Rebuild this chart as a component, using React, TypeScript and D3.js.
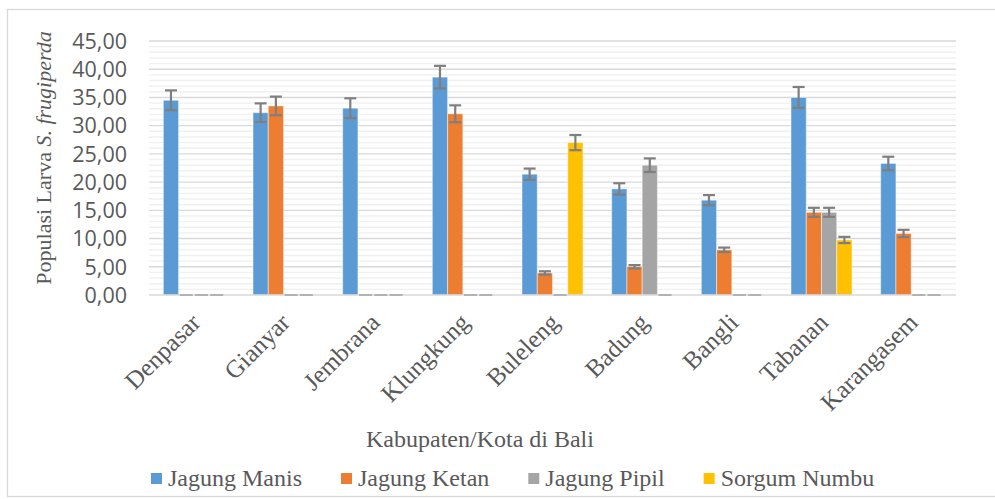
import React, { useEffect, useRef } from 'react';
import * as d3 from 'd3';

const categories = ['Denpasar', 'Gianyar', 'Jembrana', 'Klungkung', 'Buleleng', 'Badung', 'Bangli', 'Tabanan', 'Karangasem'];
const seriesNames = ['Jagung Manis', 'Jagung Ketan', 'Jagung Pipil', 'Sorgum Numbu'];
const seriesColors = ['#5B9BD5', '#ED7D31', '#A5A5A5', '#FFC000'];

const jagungManis = [34.5, 32.3, 33.1, 38.6, 21.4, 18.8, 16.8, 35.0, 23.3];
const jagungKetan = [0, 33.5, 0, 32.1, 3.9, 5.0, 8.0, 14.65, 10.9];
const jagungPipil = [0, 0, 0, 0, 0, 23.0, 0, 14.65, 0];
const sorgumNumbu = [0, 0, 0, 0, 27.0, 0, 0, 9.75, 0];

const errManis = [1.75, 1.65, 1.75, 2.0, 1.0, 1.0, 0.9, 1.85, 1.2];
const errKetan = [0, 1.65, 0, 1.5, 0.3, 0.3, 0.4, 0.8, 0.65];
const errPipil = [0, 0, 0, 0, 0, 1.2, 0, 0.8, 0];
const errSorgum = [0, 0, 0, 0, 1.35, 0, 0, 0.55, 0];

const yTicks = [0, 5, 10, 15, 20, 25, 30, 35, 40, 45];

const values = [jagungManis, jagungKetan, jagungPipil, sorgumNumbu];
const errors = [errManis, errKetan, errPipil, errSorgum];

const W = 995;
const H = 499;
const plot = { left: 149, right: 956, top: 41, bottom: 295 };
const serif = '"Liberation Serif", "Times New Roman", serif';
const sans = '"Open Sans", sans-serif';
const textColor = '#595959';

const App: React.FC = () => {
  const svgRef = useRef<SVGSVGElement>(null);

  useEffect(() => {
    if (!svgRef.current) return;
    const svg = d3.select(svgRef.current);
    svg.selectAll('*').remove();

    // outer chart border
    svg.append('rect')
      .attr('x', 7.5).attr('y', 9.5)
      .attr('width', 1000).attr('height', 487)
      .attr('fill', 'white')
      .attr('stroke', '#D9D9D9')
      .attr('stroke-width', 1.3);

    const y = d3.scaleLinear().domain([0, 45]).range([plot.bottom, plot.top]);
    const x0 = d3.scaleBand<string>()
      .domain(categories)
      .range([plot.left, plot.right])
      .paddingInner(0.32)
      .paddingOuter(0.16);
    const x1 = d3.scaleBand<string>()
      .domain(seriesNames)
      .range([0, x0.bandwidth()]);

    // minor gridlines every 1 unit
    const minor = d3.range(1, 45).filter(v => v % 5 !== 0);
    svg.append('g').selectAll('line')
      .data(minor).enter().append('line')
      .attr('x1', plot.left).attr('x2', plot.right)
      .attr('y1', d => y(d)).attr('y2', d => y(d))
      .attr('stroke', '#F0F0F0').attr('stroke-width', 1.4);

    // major gridlines
    svg.append('g').selectAll('line')
      .data(yTicks.filter(v => v > 0)).enter().append('line')
      .attr('x1', plot.left).attr('x2', plot.right)
      .attr('y1', d => y(d)).attr('y2', d => y(d))
      .attr('stroke', '#D9D9D9').attr('stroke-width', 1.4);

    // y tick labels
    svg.append('g').selectAll('text')
      .data(yTicks).enter().append('text')
      .attr('x', 127)
      .attr('y', d => y(d))
      .attr('dy', '0.36em')
      .attr('text-anchor', 'end')
      .style('font-family', sans)
      .style('font-size', '21.5px')
      .style('fill', textColor)
      .text(d => d.toFixed(2).replace('.', ','));

    // bars
    seriesNames.forEach((name, si) => {
      const g = svg.append('g');
      g.selectAll('rect')
        .data(values[si].map((v, i) => ({ v, c: categories[i] })))
        .enter().append('rect')
        .filter(d => d.v > 0)
        .attr('x', d => (x0(d.c) as number) + (x1(name) as number))
        .attr('y', d => y(d.v))
        .attr('width', x1.bandwidth())
        .attr('height', d => y(0) - y(d.v))
        .attr('fill', seriesColors[si])
        .attr('stroke', 'white')
        .attr('stroke-opacity', 0.45)
        .attr('stroke-width', 1);
    });

    // x axis line
    svg.append('line')
      .attr('x1', plot.left).attr('x2', plot.right)
      .attr('y1', y(0)).attr('y2', y(0))
      .attr('stroke', '#D9D9D9').attr('stroke-width', 1.6);

    // error bars
    const cap = 12;
    seriesNames.forEach((name, si) => {
      const g = svg.append('g').attr('stroke', '#7F7F7F').attr('stroke-width', 2.2);
      values[si].forEach((v, i) => {
        const cx = (x0(categories[i]) as number) + (x1(name) as number) + x1.bandwidth() / 2;
        const e = errors[si][i];
        const yt = y(v + e);
        const yb = y(Math.max(0, v - e));
        if (v === 0) {
          g.append('line')
            .attr('x1', cx - cap / 2 - 0.5).attr('x2', cx + cap / 2 + 0.5)
            .attr('y1', y(0)).attr('y2', y(0))
            .attr('stroke', '#A6A6A6').attr('stroke-width', 1.6);
          return;
        }
        g.append('line').attr('x1', cx).attr('x2', cx).attr('y1', yt).attr('y2', yb);
        g.append('line').attr('x1', cx - cap / 2).attr('x2', cx + cap / 2).attr('y1', yt).attr('y2', yt);
        g.append('line').attr('x1', cx - cap / 2).attr('x2', cx + cap / 2).attr('y1', yb).attr('y2', yb);
      });
    });

    // x category labels, rotated
    svg.append('g').selectAll('text')
      .data(categories).enter().append('text')
      .attr('transform', d => {
        const cx = (x0(d) as number) + x0.bandwidth() / 2 + 8;
        return `translate(${cx},${324}) rotate(-45)`;
      })
      .attr('text-anchor', 'end')
      .style('font-family', serif)
      .style('font-size', '25px')
      .style('fill', textColor)
      .text(d => d);

    // x axis title
    svg.append('text')
      .attr('x', 366).attr('y', 447)
      .style('font-family', serif)
      .style('font-size', '24px')
      .style('fill', textColor)
      .text('Kabupaten/Kota di Bali');

    // y axis title
    const yt = svg.append('text')
      .attr('transform', `translate(51,158) rotate(-90)`)
      .attr('text-anchor', 'middle')
      .style('font-family', serif)
      .style('font-size', '22px')
      .style('fill', textColor);
    yt.append('tspan').text('Populasi Larva ');
    yt.append('tspan').style('font-style', 'italic').text('S. frugiperda');

    // legend
    const legend = svg.append('g');
    let lx = 151;
    seriesNames.forEach((name, si) => {
      legend.append('rect')
        .attr('x', lx).attr('y', 473)
        .attr('width', 11).attr('height', 11)
        .attr('fill', seriesColors[si]);
      const t = legend.append('text')
        .attr('x', lx + 17).attr('y', 486)
        .style('font-family', serif)
        .style('font-size', '24px')
        .style('fill', textColor)
        .text(name);
      const w = (t.node() as SVGTextElement).getComputedTextLength();
      lx += 17 + w + 39;
    });
  }, []);

  return (
    <svg
      ref={svgRef}
      width={W}
      height={H}
      style={{ position: 'absolute', left: 0, top: 0, background: 'white' }}
    />
  );
};

export default App;
